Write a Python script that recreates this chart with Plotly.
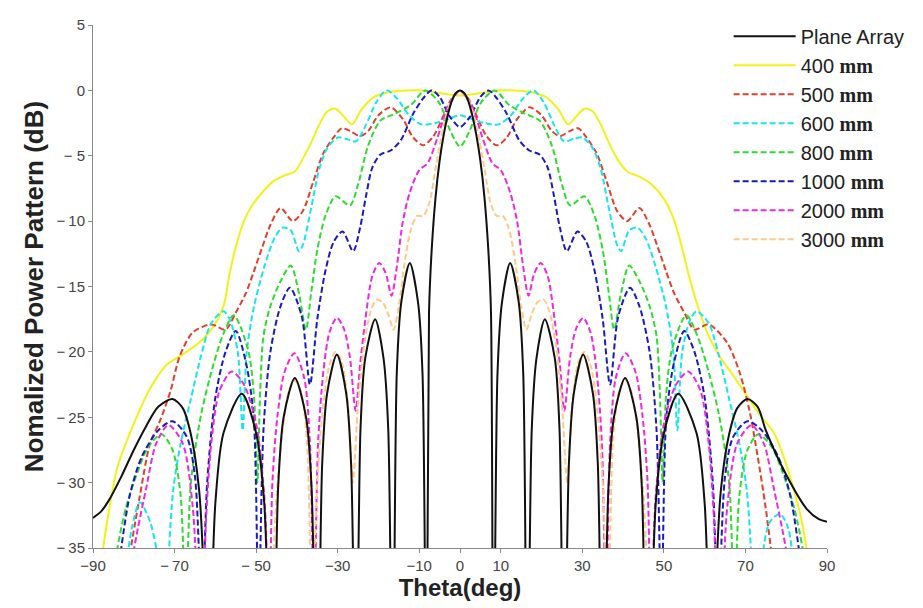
import plotly.graph_objects as go

# ---------------- data ----------------
theta_plane = [-90, -88, -86, -83, -80, -77, -74, -70.5, -68, -66, -64, -63, -62,
               -60, -58, -53.5, -50, -48, -46,
               -44.6, -43.25, -40.5, -37.75, -36.4, -35,
               -33.8, -32.6, -30.2, -27.9, -26.7, -25.5,
               -24.4, -23.25, -20.8, -18.75, -17.6, -16.5,
               -15.5, -14.4, -12.3, -10.3, -9.2, -8.2,
               -7.6, -7, -6, -5, -4, -3, -2, -1, 0,
               1, 2, 3, 4, 5, 6, 7, 7.6, 8.2,
               9.2, 10.3, 12.3, 14.4, 15.5, 16.5,
               17.6, 18.75, 20.8, 23.25, 24.4, 25.5,
               26.7, 27.9, 30.2, 32.6, 33.8, 35,
               36.4, 37.75, 40.5, 43.25, 44.6, 46,
               48, 50, 53.5, 58, 60, 62,
               63, 64, 66, 68, 70.5, 73, 75, 80, 85, 88, 90]
db_plane = [-32.7, -32.2, -31.3, -29.5, -27.5, -25.7, -24.2, -23.6, -24.3, -26.3, -30.5, -36, -50,
            -31.6, -26.2, -23.2, -26.2, -31.6, -50,
            -30.4, -25, -22, -25, -30.4, -50,
            -28.6, -23.2, -20.2, -23.2, -28.6, -50,
            -25.9, -20.5, -17.5, -20.5, -25.9, -50,
            -21.6, -16.2, -13.2, -16.2, -21.6, -50,
            -17, -12.5, -8.2, -5.4, -3.4, -1.9, -0.8, -0.2, 0,
            -0.2, -0.8, -1.9, -3.4, -5.4, -8.2, -12.5, -17, -50,
            -21.6, -16.2, -13.2, -16.2, -21.6, -50,
            -25.9, -20.5, -17.5, -20.5, -25.9, -50,
            -28.6, -23.2, -20.2, -23.2, -28.6, -50,
            -30.4, -25, -22, -25, -30.4, -50,
            -31.6, -26.2, -23.2, -26.2, -31.6, -50,
            -36, -30.5, -26.3, -24.3, -23.6, -24.2, -26, -29.4, -32, -32.8, -33]

theta_400 = [-88, -86, -84, -80, -76, -72, -68, -64, -61, -58,
             -56.5, -55, -53, -51, -49, -46, -43, -40.5, -38.5, -36.5,
             -34.5, -32.5, -30.5, -28.5, -26.5, -24, -21, -17, -13, -9,
             -5, 0, 5, 9, 13, 17, 21, 24, 26.5, 28.5,
             30.5, 32.5, 34.5, 36.5, 38.5, 41, 44, 47, 50, 52,
             54, 56, 58, 61, 64, 67, 70, 73.5, 77, 80,
             83.5, 85.5]
db_400 = [-36, -32, -28.8, -25.5, -22.8, -21, -20.2, -19.3, -18.3, -16.5,
          -14, -12, -10, -8.8, -8, -7, -6.5, -6.2, -5.2, -4,
          -2.6, -1.6, -1.4, -2, -2.6, -1.4, -0.5, -0.1, 0, 0,
          -0.2, -0.4, -0.2, 0, 0, -0.1, -0.5, -1.4, -2.6, -2,
          -1.4, -1.6, -2.6, -4, -5.2, -6.2, -6.6, -7.2, -8.3, -9.5,
          -11.5, -14, -16.2, -18.8, -20.5, -21.8, -23.2, -24.8, -26.2, -28.6,
          -32.5, -36]

theta_500 = [-81, -78.5, -76, -73.6, -71, -68.7, -65.5, -61, -57.5, -55, -52.5,
             -50.5, -48.5, -46.5, -44, -41, -38.5, -36, -33.5, -31, -29,
             -27, -24.5, -22.5, -20, -17, -14, -11.5, -9, -6.5, -4,
             -2, 0, 2, 4, 6.5, 9, 11.5, 14, 17, 20,
             22.5, 24.5, 27, 29, 31, 33.5, 36, 38.5, 41, 44,
             46.5, 48.5, 50.5, 52.5, 55, 57.5, 61, 65.5, 68.5, 71,
             73, 75, 77]
db_500 = [-35.5, -31, -27, -25.3, -23, -20.3, -18.5, -17.9, -18.3, -17, -15.5,
          -13.8, -12, -10.3, -9, -10, -9.2, -7, -4.8, -3.6, -2.9,
          -3.1, -3.5, -3.1, -1.9, -1.3, -2.2, -3.6, -4.2, -3.5, -1.9,
          -0.6, 0, -0.6, -1.9, -3.5, -4.2, -3.6, -2.2, -1.3, -1.9,
          -3.1, -3.5, -3.1, -2.9, -3.6, -4.8, -7, -9.2, -10, -9,
          -10.3, -12, -13.8, -15.5, -17, -18.3, -17.9, -19.3, -21.5, -24.5,
          -28, -32, -37]

theta_600 = [-82, -80.5, -78.5, -76, -74, -72.5, -71.5, -70.3, -68.5, -66,
             -63.5, -61, -58, -56.5, -54.5, -53.3, -52.3, -50.5, -48, -45.5,
             -43.5, -41.5, -39.5, -38.5, -36.5, -34.5, -32.5, -30, -28, -25.5,
             -23, -20.5, -18, -15.5, -12.5, -9.5, -6, -3, 0, 3,
             6, 9.5, 12.5, 15.5, 18, 20.5, 23, 25.5, 28, 30,
             32.5, 34.5, 36.5, 38.5, 39.5, 41.5, 43.5, 45.5, 48, 50.5,
             52.3, 53.3, 54.5, 56.5, 58, 61, 63.5, 66, 68.5, 70.3,
             71.5, 72.5, 74, 76, 78.5, 80.5, 82]
db_600 = [-37, -33.5, -31.5, -33, -36, -45, -36, -30.5, -27, -23.6,
          -20.3, -17.8, -16.9, -17.5, -20, -26, -20, -16.5, -13.5, -11.3,
          -10.5, -10.7, -12.3, -11.8, -9, -6, -4.4, -3.6, -3.7, -3.9,
          -2.6, -0.9, 0, -0.6, -1.9, -2.6, -2.5, -2.2, -1.9, -2.2,
          -2.5, -2.6, -1.9, -0.6, 0, -0.9, -2.6, -3.9, -3.7, -3.6,
          -4.4, -6, -9, -11.8, -12.3, -10.7, -10.5, -11.3, -13.5, -16.5,
          -20, -26, -20, -17.5, -16.9, -17.8, -20.3, -23.6, -27, -30.5,
          -36, -45, -36, -33, -32.4, -33.5, -37]

theta_800 = [-86, -84, -82, -80, -76.5, -73.2, -70.5, -68.5, -67.3, -66,
             -63.5, -60.5, -58, -55.5, -52, -50.5, -49.7, -49, -48.2, -46.5,
             -44, -41.5, -39.5, -37.8, -36.5, -35, -33, -30.5, -27, -25,
             -22.5, -19.5, -16, -12, -8.5, -5, -2.5, 0, 2.5, 5,
             8.5, 12, 16, 19.5, 22.5, 25, 27, 30.5, 33, 35,
             36.5, 37.8, 39.5, 41.5, 44, 46.5, 48.2, 49, 49.7, 50.5,
             52, 55.5, 58, 60.5, 63.5, 66, 67.3, 68.5, 70.5, 73.2,
             76.5, 80, 82, 84, 86]
db_800 = [-40, -35, -32, -30, -27.3, -26.3, -27.5, -31, -40, -30,
          -24.8, -21, -18.6, -17.2, -19.8, -23.5, -30, -23, -18.8, -16.5,
          -14.6, -13.4, -15.5, -18.3, -15.5, -12.2, -9.6, -8.1, -8.8, -7.2,
          -4.2, -2.3, -1.8, -1.1, 0, -1, -3, -4.3, -3, -1,
          0, -1.1, -1.8, -2.3, -4.2, -7.2, -8.8, -8.1, -9.6, -12.2,
          -15.5, -18.3, -15.5, -13.4, -14.6, -16.5, -18.8, -23, -30, -23.5,
          -19.8, -17.2, -18.6, -21, -24.8, -30, -40, -31, -27.5, -26.3,
          -27.3, -30, -32, -35, -40]

theta_1000 = [-83.5, -81, -78, -74, -70.5, -67, -65, -63.3, -62, -60,
              -57.5, -55, -52.5, -50.6, -49.4, -48.2, -46.5, -44, -41.7, -38.8,
              -36.8, -35, -33, -31, -28.8, -26.2, -24.5, -23, -21.5, -19.5,
              -17, -14.5, -11.5, -9, -7, -5, -2.5, 0, 2.5, 5,
              7, 9, 11.5, 14.5, 17, 19.5, 21.5, 23, 24.5, 26.2,
              28.8, 31, 33, 35, 36.8, 38.8, 41.7, 44, 46.5, 48.2,
              49.4, 50.6, 52.5, 55, 57.5, 60, 62, 63.3, 65, 67,
              70.5, 74, 78, 81, 83.5]
db_1000 = [-36, -31, -28, -26, -25.3, -26.5, -29.5, -40, -30, -23.5,
           -20, -18.4, -20.8, -25, -40, -26, -20, -16.5, -15.1, -17.3,
           -22.5, -17.5, -13.8, -11.6, -10.8, -12.3, -10.5, -8, -5.9, -4.9,
           -4.6, -3.8, -1.8, -0.6, 0, -0.5, -2, -2.8, -2, -0.5,
           0, -0.6, -1.8, -3.8, -4.6, -4.9, -5.9, -8, -10.5, -12.3,
           -10.8, -11.6, -13.8, -17.5, -22.5, -17.3, -15.1, -16.5, -20, -26,
           -40, -25, -20.8, -18.4, -20, -23.5, -30, -40, -29.5, -26.5,
           -25.3, -26, -28, -31, -36]

theta_2000 = [-80.5, -79, -77, -74.5, -71.5, -68, -65.5, -63.5, -62.3, -61,
              -59, -56, -53, -50, -48, -46.8, -46, -44.8, -43, -40.6,
              -38.2, -36.8, -35.8, -34.8, -33.5, -32, -30.2, -28.5, -27, -25.6,
              -24.5, -23.2, -21.5, -19.8, -18.2, -16.8, -15.5, -14, -12.3, -10,
              -8, -5.5, -3.2, -1.5, 0, 1.5, 3.2, 5.5, 8, 10,
              12.3, 14, 15.5, 16.8, 18.2, 19.8, 21.5, 23.2, 24.5, 25.6,
              27, 28.5, 30.2, 32, 33.5, 34.8, 35.8, 36.8, 38.2, 40.6,
              43, 44.8, 46, 46.8, 48, 50, 53, 56, 59, 61,
              62.3, 63.5, 65.5, 68, 71.5, 74.5, 77, 79, 80.5]
db_2000 = [-36, -33.5, -30.5, -27, -25.6, -27, -32, -45, -33, -27,
           -23, -21.5, -22.5, -25.5, -31, -40, -30, -25, -21.5, -20.1,
           -22, -27, -40, -27, -21.5, -18.5, -17.4, -18.2, -20.4, -24.5,
           -21, -17.5, -14.2, -13.2, -14, -15.7, -13.5, -10, -7.8, -6.1,
           -5.6, -3.6, -1.4, -0.5, 0, -0.5, -1.4, -3.6, -5.6, -6.1,
           -7.8, -10, -13.5, -15.7, -14, -13.2, -14.2, -17.5, -21, -24.5,
           -20.4, -18.2, -17.4, -18.5, -21.5, -27, -40, -27, -22, -20.1,
           -21.5, -25, -30, -40, -31, -25.5, -22.5, -21.5, -23, -27,
           -33, -45, -32, -27, -25.6, -27, -30.5, -33.5, -36]

theta_3000 = [-46.3, -45, -43.5, -42, -40.5, -39, -37.5, -36.3, -35, -33.5,
              -32, -30.5, -29, -27.5, -26.3, -25, -23.5, -22, -20.5, -19,
              -17.5, -16.3, -15, -13.5, -12, -10.5, -9, -7.5, -6, -4,
              -2, 0, 2, 4, 6, 7.5, 9, 10.5, 12, 13.5,
              15, 16.3, 17.5, 19, 20.5, 22, 23.5, 25, 26.3, 27.5,
              29, 30.5, 32, 33.5, 35, 36.3, 37.5, 39, 40.5, 42,
              43.5, 45, 46.3]
db_3000 = [-40, -31, -26, -23, -22.2, -23, -27, -40, -30, -24,
           -21, -20, -20.8, -24, -30, -24, -19.5, -17, -16, -16.2,
           -17.2, -18.3, -16.5, -13, -10.6, -9.6, -9.6, -8.6, -6, -2.7,
           -0.7, 0, -0.7, -2.7, -6, -8.6, -9.6, -9.6, -10.6, -13,
           -16.5, -18.3, -17.2, -16.2, -16, -17, -19.5, -24, -30, -24,
           -20.8, -20, -21, -24, -30, -40, -27, -23, -22.2, -23,
           -26, -31, -40]

series_names = ["Plane Array", "400", "500", "600", "800", "1000", "2000", "3000"]
series_theta = [theta_plane, theta_400, theta_500, theta_600, theta_800,
                theta_1000, theta_2000, theta_3000]
series_db = [db_plane, db_400, db_500, db_600, db_800, db_1000, db_2000, db_3000]

x_tickvals = [-90, -70, -50, -30, -10, 0, 10, 30, 50, 70, 90]
x_ticktext = ["\u221290", "\u2212\u200970", "\u2212 50", "\u221230", "\u221210", "0", "10", "30", "50", "70", "90"]
y_tickvals = [5, 0, -5, -10, -15, -20, -25, -30, -35]
y_ticktext = ["5", "0", "\u2212 5", "\u2212\u200910", "\u2212\u200915", "\u2212\u200920",
              "\u2212\u200925", "\u2212\u200930", "\u2212\u200935"]

# ---------------- styles ----------------
colors = ["#111111", "#f2f21a", "#e0402c", "#18e6ee", "#2fdc2f", "#1a1ac0", "#ee2ae0", "#ffc98a"]
dashes = ["solid", "solid", "6px,3px", "6px,3px", "6px,3px", "6px,3px", "6px,3px", "6px,3px"]

fig = go.Figure()
# coloured curves first, plane array drawn last (on top); legend order kept by legendrank
draw_order = [1, 2, 3, 4, 5, 6, 7, 0]
for i in draw_order:
    name = series_names[i]
    if i == 0:
        label = name
    else:
        label = name + " <span style='font-family:Liberation Serif'><b>mm</b></span>"
    fig.add_trace(go.Scatter(
        x=series_theta[i], y=series_db[i], mode="lines", name=label,
        legendgroup="g%d" % i, legendrank=100 + i,
        line=dict(color=colors[i], width=2, dash=dashes[i], shape="spline", smoothing=0.8),
    ))

axis_font = dict(family="Liberation Sans, Arial, sans-serif", size=15, color="#444")
fig.update_layout(
    width=923, height=608,
    margin=dict(l=93, r=96, t=25, b=60),
    plot_bgcolor="white", paper_bgcolor="white",
    font=dict(family="Liberation Sans, Arial, sans-serif"),
    legend=dict(x=0.866, y=1.016, xanchor="left", yanchor="top",
                traceorder="grouped", tracegroupgap=0,
                bgcolor="rgba(255,255,255,0)",
                font=dict(size=20, color="#222"), itemwidth=62),
    xaxis=dict(range=[-90, 90], tickvals=x_tickvals, ticktext=x_ticktext,
               showgrid=False, zeroline=False, showline=True, linecolor="#888",
               ticks="outside", ticklen=4, tickcolor="#888", tickfont=axis_font,
               title=dict(text="<b>Theta(deg)</b>", font=dict(size=24, color="#222"), standoff=6)),
    yaxis=dict(range=[-35, 5], tickvals=y_tickvals, ticktext=y_ticktext,
               showgrid=False, zeroline=False, showline=True, linecolor="#888",
               ticks="outside", ticklen=4, tickcolor="#888", tickfont=axis_font,
               title=dict(text="<b>Nomalized Power Pattern (dB)</b>", font=dict(size=26, color="#222"), standoff=5)),
)

fig.write_html("out.html")
